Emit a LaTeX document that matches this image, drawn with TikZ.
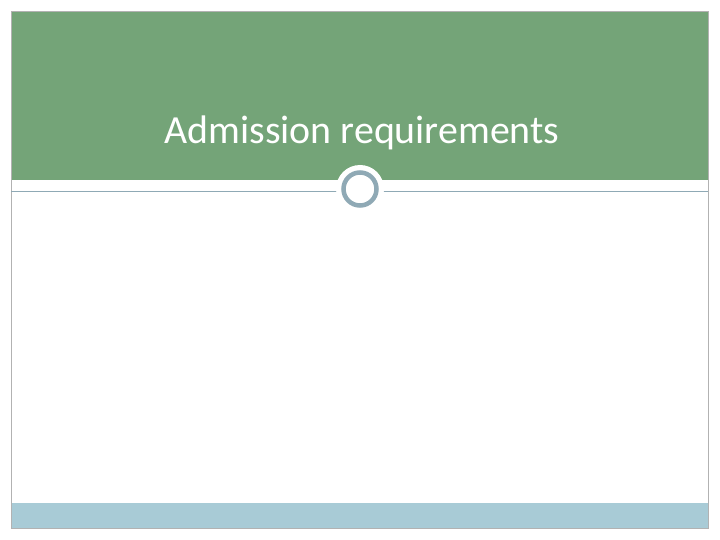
\documentclass[tikz,border=0pt]{standalone}
\usepackage{fontspec}
\setmainfont{Carlito}
\definecolor{slidegreen}{HTML}{74A478}
\definecolor{slideblue}{HTML}{A8CBD6}
\definecolor{ringgray}{HTML}{8FA9B5}
\begin{document}
\begin{tikzpicture}[x=1bp, y=-1bp]
    % Page
    \useasboundingbox (0,0) rectangle (720,540);
    \fill[white] (0,0) rectangle (720,540);

    % Title band and footer band
    \fill[slidegreen] (11,11) rectangle (708,180);
    \fill[slideblue] (11,503) rectangle (708,528);
    \draw[gray!60, line width=0.8bp] (11,11) rectangle (708,528);

    % Divider with ring
    \draw[ringgray, line width=1bp] (11,191.5) -- (708,191.5);
    \fill[white] (360,189) circle (24);
    \draw[ringgray, line width=4.5bp, fill=white] (360,189) circle (16.5);

    % Title
    \node[text=white, font=\fontsize{40}{46}\selectfont] (title) at (362,133) {Admission requirements};
\end{tikzpicture}
\end{document}
